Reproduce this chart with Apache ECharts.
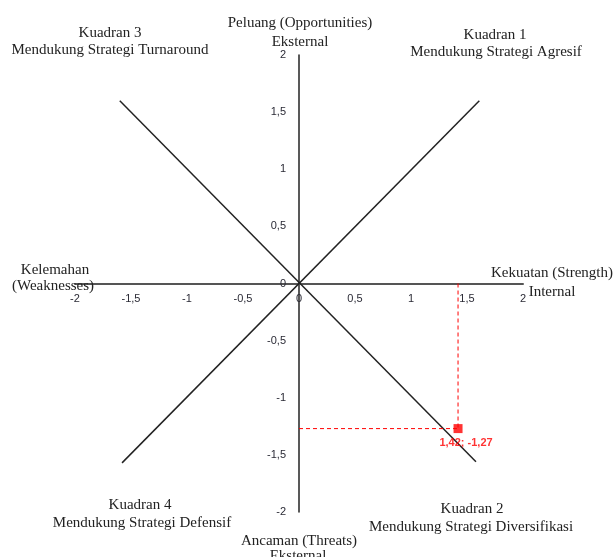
<!DOCTYPE html>
<head>
    <meta charset="utf-8">
    <title>ECharts</title>
    <script type="text/javascript" src="https://cdn.jsdelivr.net/npm/echarts@6/dist/echarts.min.js"></script>
    <style media="screen">
      html,body{ height:100%; margin:0; padding:0; background:#fff; }
    </style>
</head>
<body>
    <div id="swot" style="width:614px;height:557px"></div>
    <script>
    // data
    var axisMin = -2, axisMax = 2, axisStep = 0.5;
    var diagDown = [[-1.6, 1.6], [1.58, -1.56]];     // kuadran 3 -> kuadran 2
    var diagUp = [[-1.58, -1.57], [1.61, 1.6]];      // kuadran 4 -> kuadran 1
    var posX = 1.42;
    var posY = -1.27;
    var posLabel = '1,42; -1,27';

    // teks keterangan: [teks, x, y]
    var notes = [
        ['Peluang (Opportunities)', 300, 23], ['Eksternal', 300, 42],
        ['Kuadran 3', 110, 33], ['Mendukung Strategi Turnaround', 110, 50],
        ['Kuadran 1', 495, 35], ['Mendukung Strategi Agresif', 496, 52],
        ['Kelemahan', 55, 270], ['(Weaknesses)', 53, 286],
        ['Kekuatan (Strength)', 552, 273], ['Internal', 552, 292],
        ['Kuadran 4', 140, 505], ['Mendukung Strategi Defensif', 142, 523],
        ['Kuadran 2', 472, 509], ['Mendukung Strategi Diversifikasi', 471, 527],
        ['Ancaman (Threats)', 299, 541], ['Eksternal', 298, 556]
    ];

    var gridBox = { left: 75, right: 91, top: 55, bottom: 45 };
    var gridW = 614 - gridBox.left - gridBox.right;
    var gridH = 557 - gridBox.top - gridBox.bottom;

    var tickText = { color: '#2a2a35', fontFamily: 'Liberation Sans', fontSize: 11 };
    var fmt = function (v) { return String(v).replace('.', ','); };
    var solid = { color: '#222', width: 1.5, type: 'solid' };
    var dashed = { color: '#ff0000', width: 1, type: [4, 3] };

    var graphics = notes.map(function (n) {
        return {
            type: 'text', x: n[1], y: n[2], z: 10,
            style: {
                text: n[0], align: 'center', verticalAlign: 'middle',
                font: '15px "Liberation Serif"', fill: '#222'
            }
        };
    });

    var option = {
        animation: false,
        grid: Object.assign({ containLabel: false, outerBoundsMode: 'none' }, gridBox),
        xAxis: {
            type: 'value', min: axisMin, max: axisMax, interval: axisStep,
            position: 'bottom', offset: -gridH / 2,
            axisLine: { show: true, onZero: false, lineStyle: { color: '#555', width: 2 } },
            axisTick: { show: false },
            splitLine: { show: false },
            axisLabel: Object.assign({ margin: 10, formatter: fmt }, tickText)
        },
        yAxis: {
            type: 'value', min: axisMin, max: axisMax, interval: axisStep,
            position: 'left', offset: -gridW / 2,
            axisLine: { show: true, onZero: false, lineStyle: { color: '#222', width: 1.5 } },
            axisTick: { show: false },
            splitLine: { show: false },
            axisLabel: Object.assign({ margin: 13, formatter: fmt }, tickText)
        },
        graphic: graphics,
        series: [
            { type: 'line', data: diagDown, symbol: 'none', lineStyle: solid, silent: true },
            { type: 'line', data: diagUp, symbol: 'none', lineStyle: solid, silent: true },
            { type: 'line', data: [[0, posY], [posX, posY]], symbol: 'none', lineStyle: dashed, silent: true },
            { type: 'line', data: [[posX, 0], [posX, posY]], symbol: 'none', lineStyle: dashed, silent: true },
            {
                type: 'scatter', data: [[posX, posY]], symbol: 'rect', symbolSize: 9, z: 5,
                itemStyle: { color: '#ff0000' },
                label: {
                    show: true, position: 'bottom', offset: [8, -1], formatter: posLabel,
                    color: '#ff0000', fontWeight: 'bold', fontSize: 11, fontFamily: 'Liberation Sans'
                }
            }
        ]
    };
    var chart = echarts.init(document.getElementById('swot'));
    chart.setOption(option);
    window.onresize = function () { chart.resize(); };
    </script>
</body>
